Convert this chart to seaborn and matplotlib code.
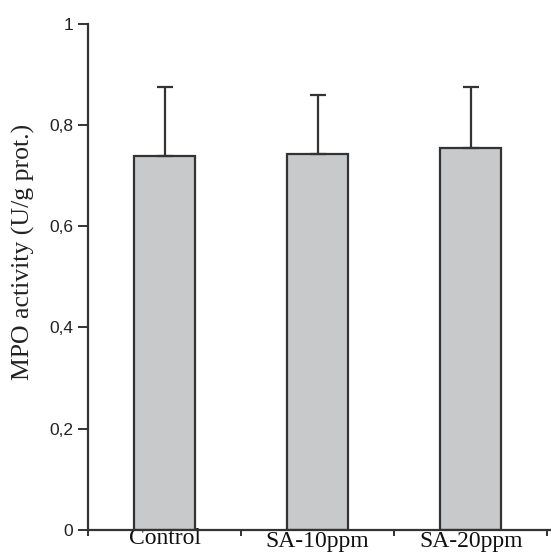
import matplotlib
matplotlib.use('Agg')
import matplotlib.pyplot as plt
import matplotlib.transforms as mtransforms
import seaborn as sns
import numpy as np

groups = ['Control', 'SA-10ppm', 'SA-20ppm']
mpo_mean = [0.738, 0.742, 0.754]
mpo_sd = [0.137, 0.118, 0.121]
ytick_vals = [0, 0.2, 0.4, 0.6, 0.8, 1.0]
ytick_labels = ['0', '0,2', '0,4', '0,6', '0,8', '1']

sns.set_style('ticks')
line_col = '#333333'

fig = plt.figure(figsize=(5.51, 5.56), dpi=100)
ax = fig.add_axes([0.16, 0.047, 0.84, 0.91])

sns.barplot(x=groups, y=mpo_mean, color='#c8c9cb', edgecolor=line_col,
            linewidth=1.6, width=0.4, saturation=1, ax=ax)
# only the upper half of the error bar is drawn
ax.errorbar(np.arange(len(groups)), mpo_mean, yerr=[[0] * 3, mpo_sd],
            fmt='none', ecolor=line_col, elinewidth=1.6, capsize=6,
            capthick=1.6, zorder=1)

ax.set_xlim(-0.5, 2.525)
ax.set_ylim(0, 1)
ax.set_yticks(ytick_vals)
ax.set_yticklabels(ytick_labels, family='Liberation Sans', fontsize=12.5,
                   color='#222222')
ax.tick_params(axis='y', direction='out', length=7, width=1.4,
               color=line_col, pad=4)

# tick marks between groups, labels centred under bars
ax.set_xticks([-0.5, 0.5, 1.5, 2.5])
ax.set_xticklabels([])
ax.tick_params(axis='x', which='major', direction='out', length=4,
               width=1.4, color=line_col)
ax.set_xticks([0, 1, 2], minor=True)
ax.set_xticklabels(groups, minor=True, family='Liberation Serif',
                   fontsize=17, color='#111111')
ax.tick_params(axis='x', which='minor', length=0, pad=1)
lab0 = ax.get_xticklabels(minor=True)[0]
lab0.set_transform(lab0.get_transform() +
                   mtransforms.ScaledTranslation(0, 2 / 72, fig.dpi_scale_trans))

ax.set_xlabel('')
ax.set_ylabel('MPO activity (U/g prot.)', family='Liberation Serif',
              fontsize=18.5, color='#222222')
ax.yaxis.set_label_coords(-0.115, 0.55)

sns.despine(ax=ax)
for s in ['left', 'bottom']:
    ax.spines[s].set_linewidth(1.6)
    ax.spines[s].set_color(line_col)

fig.savefig('out.png', dpi=100)
